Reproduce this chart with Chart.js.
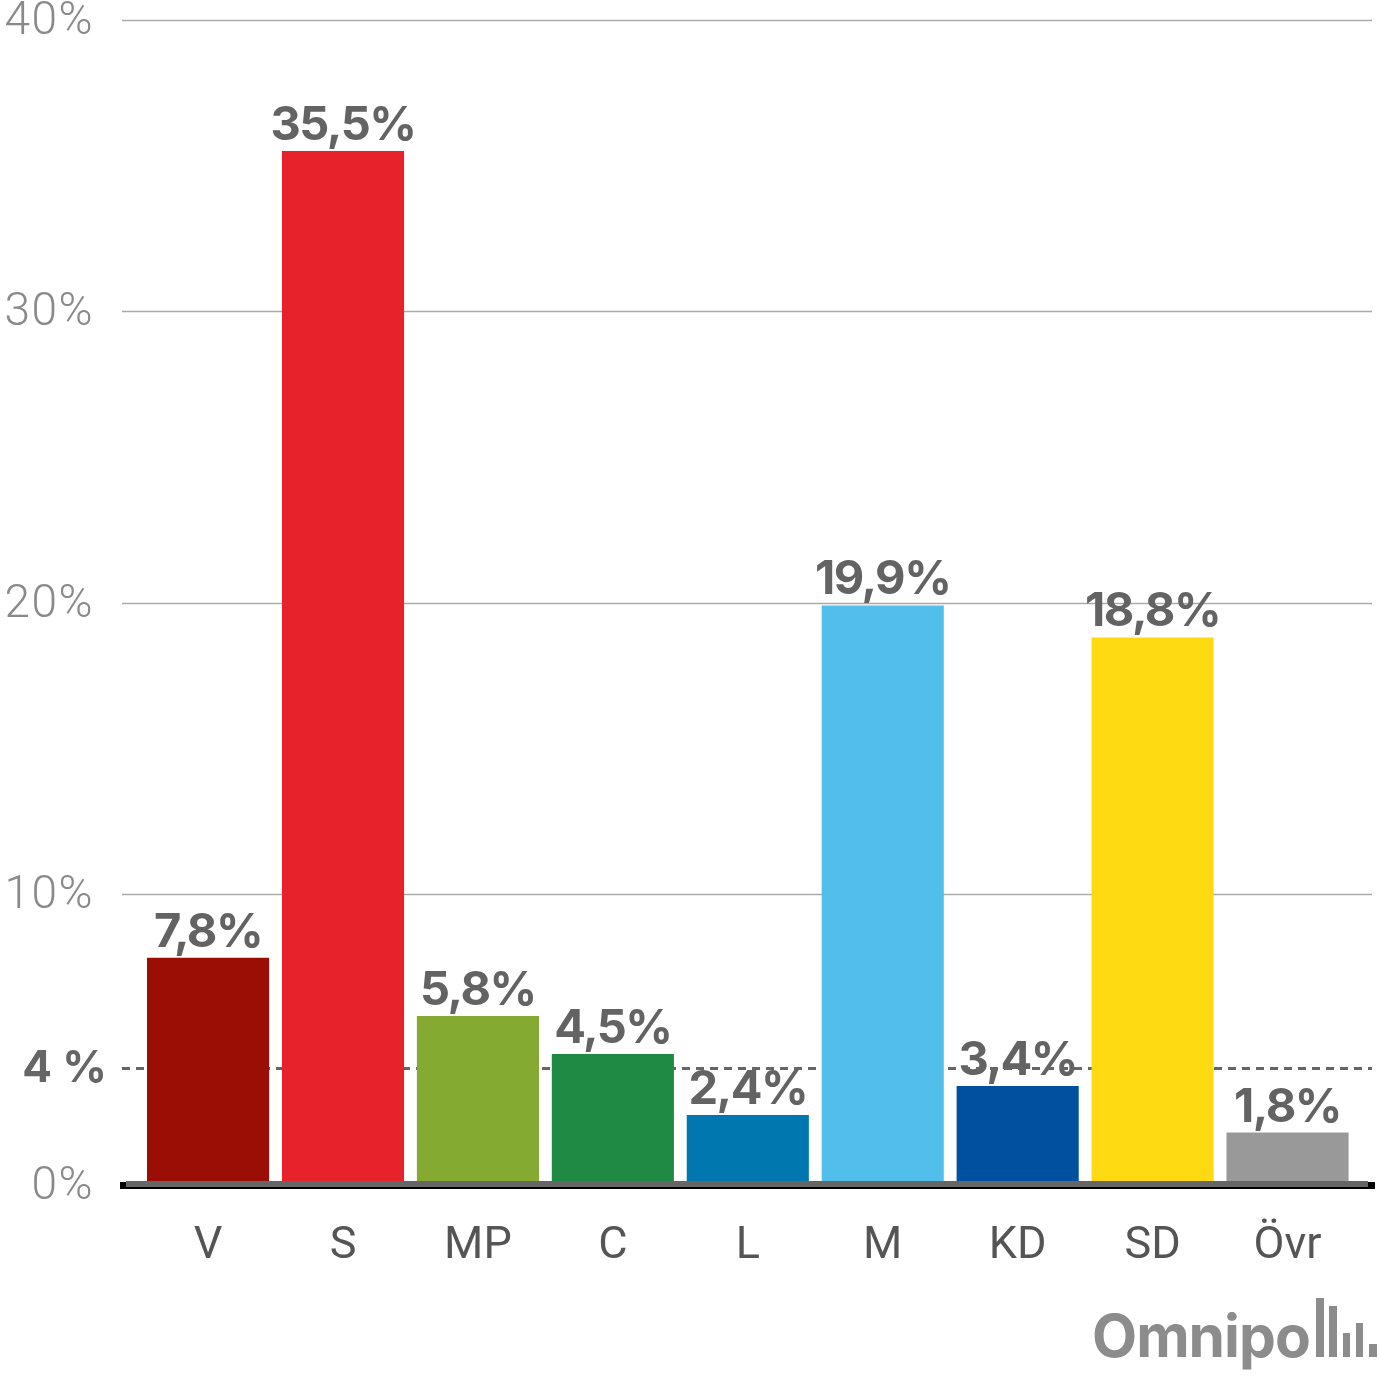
<!DOCTYPE html>
<html>
<head>
<meta charset="utf-8">
<script src="https://cdn.jsdelivr.net/npm/chart.js@4"></script>
<style>
  html, body { margin: 0; padding: 0; background: #fff; }
  #wrap { width: 1380px; height: 1380px; }
</style>
</head>
<body>
<div id="wrap"><canvas id="myChart" width="1380" height="1380"></canvas></div>
<script>
const parties = ['V', 'S', 'MP', 'C', 'L', 'M', 'KD', 'SD', 'Övr'];
const shares = [7.8, 35.5, 5.8, 4.5, 2.4, 19.9, 3.4, 18.8, 1.8];
const partyColors = ['#9b0e05', '#e8222b', '#84aa31', '#1e8a44', '#0077af', '#52bfeb', '#0050a0', '#fdda12', '#999999'];
const yTicks = [0, 10, 20, 30, 40];
const threshold = 4;

const fmt = v => v.toFixed(1).replace('.', ',') + '%';

// gridlines, labels, 4% line, baseline and logo
const extras = {
    id: 'extras',
    beforeDatasetsDraw(chart) {
        const ctx = chart.ctx;
        const y = chart.scales.y;
        ctx.save();

        // y tick labels + gridlines
        ctx.font = '300 46px Roboto';
        ctx.letterSpacing = '1.5px';
        ctx.fillStyle = '#8a8a8a';
        ctx.textAlign = 'right';
        ctx.textBaseline = 'middle';
        ctx.strokeStyle = '#aaaaaa';
        ctx.lineWidth = 1.5;
        yTicks.forEach(t => {
            const py = Math.round(y.getPixelForValue(t)) + 0.5;
            ctx.fillText(t + '%', 94, py + 2);
            if (t === 0) return;
            ctx.beginPath();
            ctx.moveTo(122, py);
            ctx.lineTo(1372, py);
            ctx.stroke();
        });
        ctx.letterSpacing = '0px';

        // value labels
        const meta = chart.getDatasetMeta(0);
        ctx.fillStyle = '#636363';
        ctx.font = 'bold 47px Inter';
        ctx.letterSpacing = '-1.5px';
        ctx.textAlign = 'center';
        ctx.textBaseline = 'alphabetic';
        meta.data.forEach((bar, i) => {
            ctx.fillText(fmt(shares[i]), bar.x, bar.y - 11);
        });
        ctx.letterSpacing = '0px';

        // 4 % threshold
        const ty = y.getPixelForValue(threshold);
        ctx.strokeStyle = '#666666';
        ctx.lineWidth = 3;
        ctx.setLineDash([8, 6]);
        ctx.beginPath();
        ctx.moveTo(122, ty);
        ctx.lineTo(1372, ty);
        ctx.stroke();
        ctx.setLineDash([]);
        ctx.fillStyle = '#666666';
        ctx.font = 'bold 44px Inter';
        ctx.textAlign = 'right';
        ctx.textBaseline = 'middle';
        ctx.fillText('4 %', 107, ty);
        ctx.restore();
    },
    afterDatasetsDraw(chart) {
        const ctx = chart.ctx;
        const y0 = Math.round(chart.scales.y.getPixelForValue(0));
        ctx.save();
        ctx.fillStyle = '#666666';
        ctx.fillRect(126, y0 - 4, 1242, 6);
        ctx.fillStyle = '#000000';
        ctx.fillRect(120, y0 - 3, 6, 6);
        ctx.fillRect(1368, y0 - 3, 7, 6);
        ctx.fillRect(120, y0 + 2, 1255, 2);

        // Omnipoll logo
        ctx.fillStyle = '#8c8c8c';
        ctx.font = 'bold 60px Inter';
        ctx.letterSpacing = '-1px';
        const w = ctx.measureText('Omnipo').width;
        const size = 60 * 218 / w;
        ctx.font = 'bold ' + size.toFixed(1) + 'px Inter';
        ctx.textAlign = 'left';
        ctx.textBaseline = 'alphabetic';
        ctx.fillText('Omnipo', 1092, 1357);
        ctx.letterSpacing = '0px';
        ctx.fillRect(1316, 1298, 8, 59);
        ctx.fillRect(1329, 1306, 8, 51);
        ctx.fillRect(1343, 1333, 7, 24);
        ctx.fillRect(1356, 1323, 7, 34);
        ctx.fillRect(1369, 1344, 8, 13);
        ctx.restore();
    }
};

const ctx = document.getElementById('myChart').getContext('2d');
const chart = new Chart(ctx, {
    type: 'bar',
    data: {
        labels: parties,
        datasets: [{
            data: shares,
            backgroundColor: partyColors,
            borderWidth: 0,
            barPercentage: 0.905,
            categoryPercentage: 1
        }]
    },
    options: {
        responsive: false,
        animation: false,
        layout: { padding: { top: 20, right: 25, bottom: 0, left: 0 } },
        plugins: { legend: { display: false }, tooltip: { enabled: false } },
        scales: {
            x: {
                grid: { display: false, drawTicks: false },
                border: { display: false },
                ticks: {
                    color: '#555555',
                    font: { family: 'Roboto', size: 45 },
                    padding: 35,
                    maxRotation: 0
                },
                afterFit(scale) { scale.height = 195; }
            },
            y: {
                min: 0,
                max: 40,
                grid: { display: false, drawTicks: false },
                border: { display: false },
                ticks: { display: false, stepSize: 10 },
                afterFit(scale) { scale.width = 140.6; }
            }
        }
    },
    plugins: [extras]
});
</script>
</body>
</html>
